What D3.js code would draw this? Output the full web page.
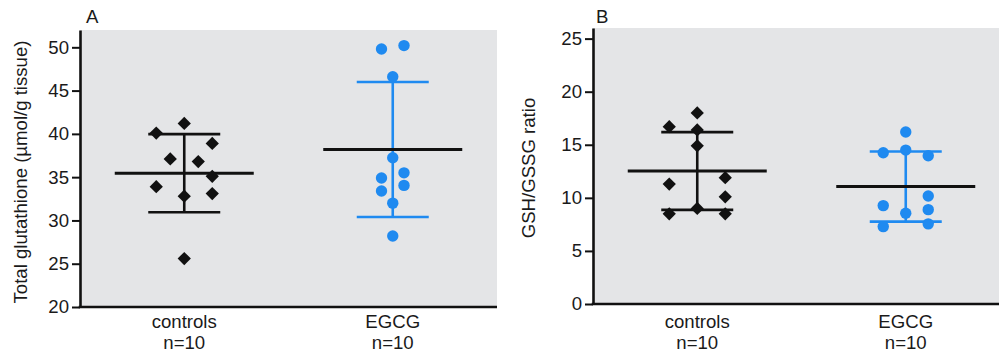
<!DOCTYPE html>
<html>
<head>
<meta charset="utf-8">
<script src="https://cdn.jsdelivr.net/npm/d3@7"></script>
<style>
  html, body { margin: 0; padding: 0; background: #ffffff; }
  svg { display: block; }
  text { font-family: "Liberation Sans", Arial, Helvetica, sans-serif; fill: #1a1a1a; }
</style>
</head>
<body>
<svg id="chart" width="999" height="358"></svg>
<script>
// Group labels
const categories = ["controls", "EGCG"];
const groupSizes = ["n=10", "n=10"];

// Panel A: total glutathione (µmol/g tissue)
const glutathioneControls = [40.1, 41.2, 38.9, 37.1, 36.8, 35.1, 33.9, 32.8, 33.1, 25.6];
const glutathioneEGCG     = [49.8, 50.2, 46.6, 37.25, 34.9, 33.4, 35.5, 34.05, 32.0, 28.2];

// Panel B: GSH/GSSG ratio
const ratioControls = [16.7, 18.0, 16.4, 14.9, 11.3, 11.9, 10.1, 9.0, 8.5, 8.5];
const ratioEGCG     = [16.2, 14.5, 14.25, 13.97, 10.18, 9.27, 8.89, 8.55, 7.29, 7.55];

// Scatter column of each point (dodging of overlapping values)
const glutathioneControlsCol = [-2, 0, 2, -1, 1, 2, -2, 0, 2, 0];
const glutathioneEGCGCol     = [-1, 1, 0, 0, -1, -1, 1, 1, 0, 0];
const ratioControlsCol       = [-2, 0, 0, 0, -2, 2, 2, 0, -2, 2];
const ratioEGCGCol           = [0, 0, -2, 2, 2, -2, 2, 0, -2, 2];

// Axis ranges and ticks
const glutathioneDomain = [20, 52];
const glutathioneTicks = [20, 25, 30, 35, 40, 45, 50];
const ratioDomain = [0, 26];
const ratioTicks = [0, 5, 10, 15, 20, 25];

const BLACK = "#111111";
const BLUE = "#1f8af0";
const PANEL_BG = "#e4e5e7";
const FONT_SIZE = 18.6;

const svg = d3.select("#chart");

function drawPanel(cfg) {
  const g = svg.append("g");
  const x = d3.scalePoint().domain(categories).range([cfg.left, cfg.right]).padding(0.5);
  const y = d3.scaleLinear().domain(cfg.domain).range([cfg.bottom, cfg.top]);

  g.append("rect")
    .attr("x", cfg.left).attr("y", cfg.top)
    .attr("width", cfg.right - cfg.left).attr("height", cfg.bottom - cfg.top)
    .attr("fill", PANEL_BG);

  const groups = [
    { cat: categories[0], values: cfg.controls, cols: cfg.controlsCol, color: BLACK, shape: "diamond", step: 14 },
    { cat: categories[1], values: cfg.egcg, cols: cfg.egcgCol, color: BLUE, shape: "circle", step: 11.25 }
  ];

  // Mean ± SD bars
  groups.forEach(gr => {
    const cx = x(gr.cat);
    const mean = d3.mean(gr.values);
    const sd = d3.deviation(gr.values);
    const eb = g.append("g").attr("stroke", gr.color).attr("stroke-width", 2.6).attr("fill", "none");
    eb.append("line").attr("x1", cx).attr("x2", cx).attr("y1", y(mean + sd)).attr("y2", y(mean - sd));
    [mean + sd, mean - sd].forEach(v => {
      eb.append("line").attr("x1", cx - 36).attr("x2", cx + 36).attr("y1", y(v)).attr("y2", y(v));
    });
    g.append("line")
      .attr("x1", cx - 69.5).attr("x2", cx + 69.5)
      .attr("y1", y(mean)).attr("y2", y(mean))
      .attr("stroke", BLACK).attr("stroke-width", 3);
  });

  // Individual values
  groups.forEach(gr => {
    const cx = x(gr.cat);
    const pts = gr.values.map((v, i) => ({ v, c: gr.cols[i] }));
    if (gr.shape === "diamond") {
      g.selectAll(null).data(pts).enter().append("path")
        .attr("d", d3.symbol().type(d3.symbolSquare).size(88)())
        .attr("transform", d => `translate(${cx + d.c * gr.step},${y(d.v)}) rotate(45)`)
        .attr("fill", gr.color);
    } else {
      g.selectAll(null).data(pts).enter().append("circle")
        .attr("cx", d => cx + d.c * gr.step)
        .attr("cy", d => y(d.v))
        .attr("r", 5.7)
        .attr("fill", gr.color);
    }
  });

  // Axes
  const yAxis = d3.axisLeft(y).tickValues(cfg.ticks).tickSize(8).tickSizeOuter(0).tickPadding(3);
  const ya = g.append("g").attr("transform", `translate(${cfg.left},0)`).call(yAxis);
  ya.select(".domain").attr("stroke", BLACK).attr("stroke-width", 2.6);
  ya.selectAll(".tick line").attr("stroke", BLACK).attr("stroke-width", 2);
  ya.selectAll(".tick text").attr("font-size", FONT_SIZE).attr("fill", "#1a1a1a")
    .style("font-family", '"Liberation Sans", Arial, sans-serif');

  g.append("line")
    .attr("x1", cfg.left - 1.3).attr("x2", cfg.right)
    .attr("y1", cfg.bottom).attr("y2", cfg.bottom)
    .attr("stroke", BLACK).attr("stroke-width", 2.6);

  // Group labels under the axis
  categories.forEach((c, i) => {
    g.append("text").attr("x", x(c)).attr("y", 328).attr("text-anchor", "middle")
      .attr("font-size", FONT_SIZE).text(c);
    g.append("text").attr("x", x(c)).attr("y", 349).attr("text-anchor", "middle")
      .attr("font-size", FONT_SIZE).text(groupSizes[i]);
  });

  // Y title
  g.append("text")
    .attr("transform", `translate(${cfg.titleX},${cfg.titleY}) rotate(-90)`)
    .attr("text-anchor", "middle").attr("font-size", FONT_SIZE).text(cfg.title);

  // Panel letter
  g.append("text").attr("x", cfg.letterX).attr("y", 23).attr("font-size", FONT_SIZE).text(cfg.letter);
}

drawPanel({
  left: 80, right: 497, top: 30, bottom: 307,
  domain: glutathioneDomain, ticks: glutathioneTicks,
  controls: glutathioneControls, egcg: glutathioneEGCG,
  controlsCol: glutathioneControlsCol, egcgCol: glutathioneEGCGCol,
  title: "Total glutathione (µmol/g tissue)", titleX: 26.5, titleY: 172,
  letter: "A", letterX: 86
});

drawPanel({
  left: 593, right: 1010, top: 28, bottom: 304,
  domain: ratioDomain, ticks: ratioTicks,
  controls: ratioControls, egcg: ratioEGCG,
  controlsCol: ratioControlsCol, egcgCol: ratioEGCGCol,
  title: "GSH/GSSG ratio", titleX: 535, titleY: 168,
  letter: "B", letterX: 596
});
</script>
</body>
</html>
